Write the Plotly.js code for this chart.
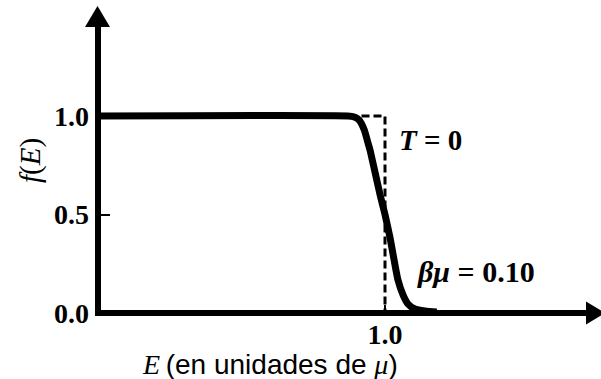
<!DOCTYPE html>
<html>
<head>
<meta charset="utf-8">
<script src="https://cdn.plot.ly/plotly-3.0.1.min.js"></script>
<style>
  html, body { margin: 0; padding: 0; background: #ffffff; }
  #chart { width: 601px; height: 379px; }
</style>
</head>
<body>
<div id="chart"></div>
<script>
// Fermi–Dirac occupancy f(E), energy in units of the chemical potential mu
const energy    = [0, 0.870, 0.893, 0.911, 0.928, 0.940, 0.948, 0.983, 1.000, 1.017, 1.045, 1.063, 1.080, 1.104, 1.139, 1.180];
const occupancy = [1, 1.000, 0.995, 0.978, 0.929, 0.868, 0.827, 0.599, 0.500, 0.386, 0.168, 0.091, 0.046, 0.020, 0.010, 0.005];

// T = 0 step function
const stepEnergy    = [0, 1, 1];
const stepOccupancy = [1, 1, 0];

// axis ticks
const xTickVals = [1.0];
const xTickText = ['1.0'];
const yTickVals = [0, 0.5, 1.0];
const yTickText = ['0.0', '0.5', '1.0'];

// curve labels
const labelT    = '<i>T</i> = 0';
const labelBeta = '<i>βμ</i> = 0.10';

const W = 601, H = 379;
const margin = { l: 95, r: 10, t: 20, b: 64 };
const plotW = W - margin.l - margin.r;
const plotH = H - margin.t - margin.b;
const xRange = [-0.0087, 1.7165];
const yRange = [-0.01015, 1.4873];

// pixel -> paper helpers for decorations drawn outside the plot area
const pxX = px => (px - margin.l) / plotW;
const pxY = py => (H - margin.b - py) / plotH;
const dataToPxX = x => margin.l + (x - xRange[0]) / (xRange[1] - xRange[0]) * plotW;
const dataToPxY = y => H - margin.b - (y - yRange[0]) / (yRange[1] - yRange[0]) * plotH;

const axisX0 = dataToPxX(0);
const axisY0 = dataToPxY(0);

const serif = 'Liberation Serif, Times New Roman, serif';
const sans  = 'Liberation Sans, Arial, sans-serif';

const traces = [
  {
    x: stepEnergy, y: stepOccupancy,
    type: 'scatter', mode: 'lines',
    line: { color: '#000000', width: 3, dash: '8px,4px' },
    hoverinfo: 'skip', showlegend: false
  },
  {
    x: energy, y: occupancy,
    type: 'scatter', mode: 'lines',
    line: { color: '#000000', width: 7, shape: 'spline', smoothing: 0.5 },
    hoverinfo: 'skip', showlegend: false
  }
];

const tickFont = { family: serif, size: 28, color: '#000000', weight: 'bold' };

const layout = {
  width: W, height: H,
  margin: margin,
  paper_bgcolor: '#ffffff',
  plot_bgcolor: '#ffffff',
  showlegend: false,
  xaxis: {
    range: xRange, fixedrange: true,
    showgrid: false, showline: false,
    zeroline: true, zerolinewidth: 6, zerolinecolor: '#000000',
    tickmode: 'array', tickvals: xTickVals, ticktext: xTickText,
    ticks: 'inside', ticklen: 10, tickwidth: 2, tickcolor: '#000000',
    tickfont: tickFont, ticklabelstandoff: 0
  },
  yaxis: {
    range: yRange, fixedrange: true,
    showgrid: false, showline: false,
    zeroline: true, zerolinewidth: 6, zerolinecolor: '#000000',
    tickmode: 'array', tickvals: yTickVals, ticktext: yTickText,
    ticks: 'inside', ticklen: 15, tickwidth: 2, tickcolor: '#000000',
    tickfont: tickFont, ticklabelstandoff: 5
  },
  shapes: [
    // arrowhead on the vertical axis
    {
      type: 'path', xref: 'paper', yref: 'paper', layer: 'above',
      path: 'M ' + pxX(axisX0 - 12.5) + ' ' + pxY(27) +
            ' L ' + pxX(axisX0) + ' ' + pxY(6) +
            ' L ' + pxX(axisX0 + 12.5) + ' ' + pxY(27) + ' Z',
      fillcolor: '#000000', line: { width: 0 }
    },
    // arrowhead on the horizontal axis
    {
      type: 'path', xref: 'paper', yref: 'paper', layer: 'above',
      path: 'M ' + pxX(586) + ' ' + pxY(axisY0 - 11.5) +
            ' L ' + pxX(605) + ' ' + pxY(axisY0) +
            ' L ' + pxX(586) + ' ' + pxY(axisY0 + 11.5) + ' Z',
      fillcolor: '#000000', line: { width: 0 }
    }
  ],
  annotations: [
    {
      x: 1.042, y: 0.878, xref: 'x', yref: 'y',
      xanchor: 'left', yanchor: 'middle', showarrow: false,
      text: labelT, font: { family: serif, size: 29, color: '#000000', weight: 'bold' }
    },
    {
      x: 1.104, y: 0.213, xref: 'x', yref: 'y',
      xanchor: 'left', yanchor: 'middle', showarrow: false,
      text: labelBeta, font: { family: serif, size: 30, color: '#000000', weight: 'bold' }
    },
    {
      // vertical axis title
      x: pxX(30), y: pxY(161), xref: 'paper', yref: 'paper',
      xanchor: 'center', yanchor: 'middle', showarrow: false, textangle: -90,
      text: '<i>f</i>(<i>E</i>)', font: { family: serif, size: 29, color: '#000000' }
    },
    {
      // horizontal axis title
      x: pxX(270), y: pxY(364), xref: 'paper', yref: 'paper',
      xanchor: 'center', yanchor: 'middle', showarrow: false,
      text: '<span style="font-family:' + serif + '"><i>E</i></span>\u2009(en unidades de <span style="font-family:' + serif + '"><i>μ</i></span>)',
      font: { family: sans, size: 28, color: '#000000' }
    }
  ]
};

Plotly.newPlot('chart', traces, layout, { staticPlot: true, displayModeBar: false });
</script>
</body>
</html>
